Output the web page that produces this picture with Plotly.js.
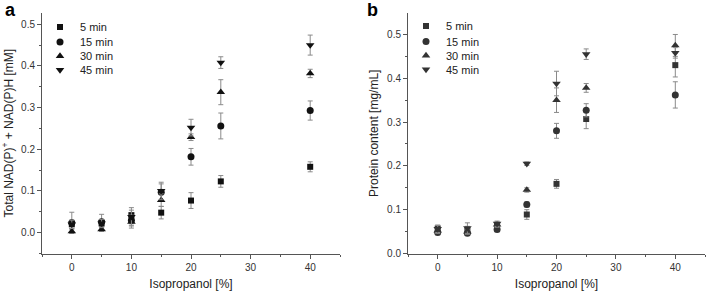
<!DOCTYPE html>
<html>
<head>
<meta charset="utf-8">
<script src="https://cdn.plot.ly/plotly-3.0.1.min.js"></script>
<style>html,body{margin:0;padding:0;background:#fff;}#chart{width:707px;height:291px;}</style>
</head>
<body>
<div id="chart"></div>
<script>
// ---- data ----
const isopropanol = [0, 5, 10, 15, 20, 25, 40];
const seriesNames = ['5 min', '15 min', '30 min', '45 min'];

// Panel a: Total NAD(P)+ + NAD(P)H [mM]
const nad5 = [0.020, 0.022, 0.042, 0.048, 0.077, 0.123, 0.158];
const nad15 = [0.024, 0.026, 0.030, 0.097, 0.182, 0.256, 0.293];
const nad30 = [0.003, 0.008, 0.026, 0.078, 0.229, 0.337, 0.382];
const nad45 = [0.020, 0.022, 0.038, 0.100, 0.252, 0.408, 0.450];
const nad5Err = [0.010, 0.008, 0.012, 0.015, 0.019, 0.014, 0.012];
const nad15Err = [0.025, 0.018, 0.012, 0.020, 0.020, 0.031, 0.023];
const nad30Err = [0.005, 0.005, 0.015, 0.015, 0.008, 0.030, 0.010];
const nad45Err = [0.010, 0.010, 0.022, 0.021, 0.020, 0.014, 0.024];

// Panel b: Protein content [mg/mL]
const prot5 = [0.057, 0.052, 0.064, 0.089, 0.159, 0.307, 0.430];
const prot15 = [0.048, 0.046, 0.055, 0.112, 0.280, 0.327, 0.362];
const prot30 = [0.052, 0.050, 0.066, 0.145, 0.350, 0.378, 0.475];
const prot45 = [0.056, 0.058, 0.068, 0.205, 0.388, 0.455, 0.458];
const prot5Err = [0.008, 0.010, 0.006, 0.011, 0.010, 0.022, 0.027];
const prot15Err = [0.005, 0.005, 0.005, 0.006, 0.017, 0.015, 0.030];
const prot30Err = [0.006, 0.006, 0.006, 0.005, 0.028, 0.010, 0.025];
const prot45Err = [0.008, 0.012, 0.006, 0.004, 0.028, 0.012, 0.012];

const xTickVals = [0, 10, 20, 30, 40];
const yTickValsA = [0, 0.1, 0.2, 0.3, 0.4, 0.5];
const yTickValsB = [0, 0.1, 0.2, 0.3, 0.4, 0.5];

// ---- styles ----
const symbols = ['square', 'circle', 'triangle-up', 'triangle-down'];
const sizes = [6, 7, 7.5, 7.5];
const FONT = 'Liberation Sans, Arial, sans-serif';
const W = 707, H = 291;

function mk(x, y, err, i, xa, ya, color, legend) {
  return {
    type: 'scatter', mode: 'markers', x: x, y: y,
    name: seriesNames[i], xaxis: xa, yaxis: ya, legend: legend,
    marker: {symbol: symbols[i], size: sizes[i], color: color, line: {width: 0}},
    error_y: {type: 'data', array: err, visible: true, color: '#8a8a8a', thickness: 1, width: 2.5},
    cliponaxis: false
  };
}

const nadSets = [[nad5, nad5Err], [nad15, nad15Err], [nad30, nad30Err], [nad45, nad45Err]];
const protSets = [[prot5, prot5Err], [prot15, prot15Err], [prot30, prot30Err], [prot45, prot45Err]];
const legendIds = ['legend', 'legend2', 'legend3', 'legend4', 'legend5', 'legend6', 'legend7', 'legend8'];
const traces = [];
nadSets.forEach((s, i) => traces.push(mk(isopropanol, s[0], s[1], i, 'x', 'y', '#111111', legendIds[i])));
protSets.forEach((s, i) => traces.push(mk(isopropanol, s[0], s[1], i, 'x2', 'y2', '#333333', legendIds[4 + i])));

const domXA = [42 / W, 340 / W];
const domXB = [408 / W, 705 / W];
const domY = [1 - 253.5 / H, 1 - 13 / H];
const axisColor = '#555555';
const tickFont = {family: FONT, size: 10, color: '#333333'};
const titleFont = {family: FONT, size: 12, color: '#222222'};

function xMain(anchor, domain, titleText) {
  return {
    domain: domain, anchor: anchor, range: [-5, 45], tickvals: xTickVals,
    ticks: 'outside', ticklen: 4, tickwidth: 1, tickcolor: axisColor,
    showline: true, linecolor: axisColor, linewidth: 1, mirror: false,
    showgrid: false, zeroline: false, tickfont: tickFont,
    minor: {dtick: 5, tick0: 0, ticks: 'outside', ticklen: 2.5, tickcolor: axisColor, showgrid: false},
    title: {text: titleText, font: titleFont, standoff: 9}
  };
}
function yMain(anchor, domain, range, tickvals, titleText, standoff) {
  return {
    domain: domain, anchor: anchor, range: range, tickvals: tickvals,
    ticktext: tickvals.map(v => v.toFixed(1)),
    ticks: 'outside', ticklen: 4, tickwidth: 1, tickcolor: axisColor,
    showline: true, linecolor: axisColor, linewidth: 1, mirror: false,
    showgrid: false, zeroline: false, tickfont: tickFont,
    minor: {dtick: 0.05, tick0: 0, ticks: 'outside', ticklen: 2.5, tickcolor: axisColor, showgrid: false},
    title: {text: titleText, font: titleFont, standoff: standoff}
  };
}
function xMirror(overlay, anchor, domain) {
  return {
    overlaying: overlay, anchor: anchor, side: 'top', domain: domain, range: [-5, 45], tickvals: xTickVals,
    ticks: 'inside', ticklen: 4, tickcolor: axisColor, showticklabels: false,
    showline: true, linecolor: axisColor, linewidth: 1, showgrid: false, zeroline: false,
    minor: {dtick: 5, tick0: 0, ticks: 'inside', ticklen: 2.5, tickcolor: axisColor, showgrid: false}
  };
}
function yMirror(overlay, anchor, domain, range, tickvals) {
  return {
    overlaying: overlay, anchor: anchor, side: 'right', domain: domain, range: range, tickvals: tickvals,
    ticks: 'inside', ticklen: 4, tickcolor: axisColor, showticklabels: false,
    showline: true, linecolor: axisColor, linewidth: 1, showgrid: false, zeroline: false,
    minor: {dtick: 0.05, tick0: 0, ticks: 'inside', ticklen: 2.5, tickcolor: axisColor, showgrid: false}
  };
}

const rangeA = [-0.05, 0.527];
const rangeB = [0, 0.549];

function legendAt(xPx, yPx) {
  return {
    x: xPx / W, y: 1 - yPx / H, xanchor: 'left', yanchor: 'middle',
    font: {family: FONT, size: 11, color: '#222222'},
    bgcolor: 'rgba(0,0,0,0)', borderwidth: 0, itemwidth: 30, tracegroupgap: 0
  };
}

const rowsA = [27, 42, 56, 70];
const rowsB = [26, 41.5, 55.5, 69.5];

const layout = {
  width: W, height: H,
  margin: {l: 0, r: 0, t: 0, b: 0, pad: 0},
  paper_bgcolor: '#ffffff', plot_bgcolor: '#ffffff',
  font: {family: FONT, color: '#222222'},
  showlegend: true,
  xaxis: xMain('y', domXA, 'Isopropanol [%]'),
  yaxis: yMain('x', domY, rangeA, yTickValsA, 'Total NAD(P)<sup>+</sup> + NAD(P)H [mM]', 5),
  xaxis2: xMain('y2', domXB, 'Isopropanol [%]'),
  yaxis2: yMain('x2', domY, rangeB, yTickValsB, 'Protein content [mg/mL]', 5),
  xaxis3: xMirror('x', 'y', domXA),
  yaxis3: yMirror('y', 'x', domY, rangeA, yTickValsA),
  xaxis4: xMirror('x2', 'y2', domXB),
  yaxis4: yMirror('y2', 'x2', domY, rangeB, yTickValsB),
  annotations: [
    {text: '<b>a</b>', xref: 'paper', yref: 'paper', x: 3 / W, y: 1 + 2 / H, xanchor: 'left', yanchor: 'top',
     showarrow: false, font: {family: FONT, size: 18, color: '#000'}},
    {text: '<b>b</b>', xref: 'paper', yref: 'paper', x: 365 / W, y: 1 + 2 / H, xanchor: 'left', yanchor: 'top',
     showarrow: false, font: {family: FONT, size: 18, color: '#000'}}
  ]
};
rowsA.forEach((r, i) => { layout[legendIds[i]] = legendAt(40, r); });
rowsB.forEach((r, i) => { layout[legendIds[4 + i]] = legendAt(406, r); });

Plotly.newPlot('chart', traces, layout, {staticPlot: true, displayModeBar: false});
</script>
</body>
</html>
